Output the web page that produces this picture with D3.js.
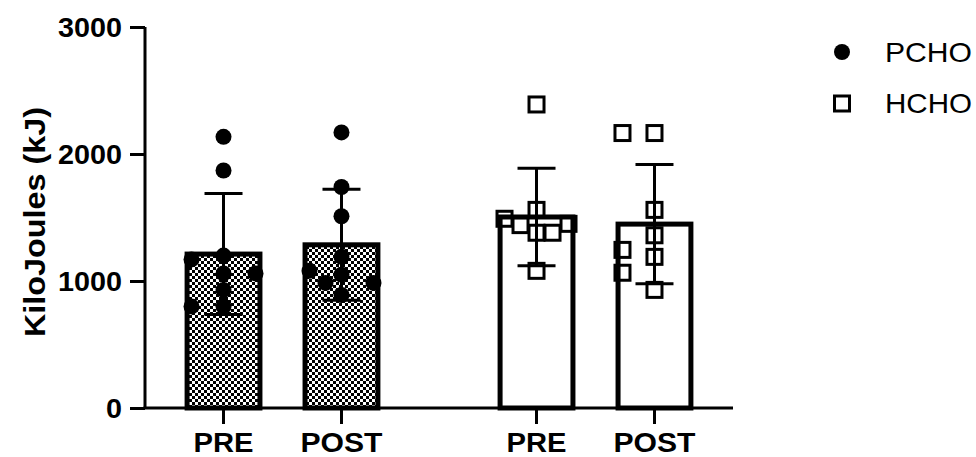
<!DOCTYPE html>
<html><head><meta charset="utf-8">
<script src="https://cdn.jsdelivr.net/npm/d3@7"></script>
<style>body{margin:0;background:#fff}svg{display:block}</style>
</head><body>
<svg id="chart" width="976" height="457"></svg>
<script>
const groups = ["PCHO", "HCHO"];
const times = ["PRE", "POST"];
const yTicks = [0, 1000, 2000, 3000];
const yTitle = "KiloJoules (kJ)";
// means and SDs per bar (group x time)
const meanPCHO = [1212, 1285];
const sdPCHO = [476, 437];
const meanHCHO = [1504, 1448];
const sdHCHO = [384, 470];
// individual values
const ptsPCHOpre = [2135, 1870, 1200, 1170, 1060, 1060, 930, 800, 800];
const ptsPCHOpost = [2170, 1740, 1510, 1190, 1080, 1050, 985, 985, 890];
const ptsHCHOpre = [2390, 1560, 1490, 1450, 1440, 1380, 1380, 1080];
const ptsHCHOpost = [2165, 2165, 1560, 1360, 1245, 1190, 1065, 930];

const svg = d3.select("#chart");
const font = "'Liberation Sans', Arial, sans-serif";
const defs = svg.append("defs");
const pat = defs.append("pattern").attr("id", "checker").attr("patternUnits", "userSpaceOnUse")
  .attr("width", 6).attr("height", 6);
pat.append("rect").attr("width", 6).attr("height", 6).attr("fill", "#fff");
pat.append("rect").attr("width", 3).attr("height", 3).attr("fill", "#000");
pat.append("rect").attr("x", 3).attr("y", 3).attr("width", 3).attr("height", 3).attr("fill", "#000");

const x0 = d3.scaleBand().domain(groups).range([145, 733]).paddingInner(0.25).paddingOuter(0.0643).align(0.5);
const x1 = d3.scaleBand().domain(times).range([0, x0.bandwidth()]).paddingInner(0.34).paddingOuter(0.165);
const y = d3.scaleLinear().domain([0, 3000]).range([408, 27]);

const data = [
  {g: "PCHO", t: "PRE", mean: meanPCHO[0], sd: sdPCHO[0], pts: ptsPCHOpre},
  {g: "PCHO", t: "POST", mean: meanPCHO[1], sd: sdPCHO[1], pts: ptsPCHOpost},
  {g: "HCHO", t: "PRE", mean: meanHCHO[0], sd: sdHCHO[0], pts: ptsHCHOpre},
  {g: "HCHO", t: "POST", mean: meanHCHO[1], sd: sdHCHO[1], pts: ptsHCHOpost}
];
const cx = d => x0(d.g) + x1(d.t) + x1.bandwidth() / 2;
const bw = x1.bandwidth();
const sw = 5;

// bars
svg.append("g").selectAll("rect").data(data).join("rect")
  .attr("x", d => cx(d) - bw / 2 + sw / 2)
  .attr("width", bw - sw)
  .attr("y", d => y(d.mean))
  .attr("height", d => y(0) - y(d.mean))
  .attr("fill", d => d.g === "PCHO" ? "url(#checker)" : "#fff")
  .attr("stroke", "#000").attr("stroke-width", sw);

// error bars
const capW = 38;
const eb = svg.append("g").attr("stroke", "#000").attr("stroke-width", 3);
data.forEach(d => {
  const c = cx(d);
  eb.append("line").attr("x1", c).attr("x2", c).attr("y1", y(d.mean + d.sd)).attr("y2", y(d.mean - d.sd));
  eb.append("line").attr("x1", c - capW / 2).attr("x2", c + capW / 2).attr("y1", y(d.mean + d.sd)).attr("y2", y(d.mean + d.sd));
  eb.append("line").attr("x1", c - capW / 2).attr("x2", c + capW / 2).attr("y1", y(d.mean - d.sd)).attr("y2", y(d.mean - d.sd));
});

// simple swarm layout
function swarm(vals, step, diam) {
  const placed = [];
  const order = vals.map((v, i) => i).sort((a, b) => vals[b] - vals[a]);
  const offs = new Array(vals.length);
  order.forEach(i => {
    const py = y(vals[i]);
    const cands = [0, -2, 2, -1, 1];
    for (const k of cands) {
      const px = k * step;
      if (!placed.some(p => Math.hypot(p.x - px, p.y - py) < diam)) {
        placed.push({x: px, y: py}); offs[i] = px; return;
      }
    }
    placed.push({x: 0, y: py}); offs[i] = 0;
  });
  return offs;
}

const r = 8;
data.forEach(d => {
  const c = cx(d);
  const offs = swarm(d.pts, 16, 16);
  const g = svg.append("g");
  d.pts.forEach((v, i) => {
    if (d.g === "PCHO") {
      g.append("circle").attr("cx", c + offs[i]).attr("cy", y(v)).attr("r", r).attr("fill", "#000");
    } else {
      g.append("rect").attr("x", c + offs[i] - 7.5).attr("y", y(v) - 7.5).attr("width", 15).attr("height", 15)
        .attr("fill", "none").attr("stroke", "#000").attr("stroke-width", 3);
    }
  });
});

// axes
const ya = svg.append("g").attr("transform", "translate(145,0)")
  .call(d3.axisLeft(y).tickValues(yTicks).tickSize(15).tickPadding(8).tickFormat(d3.format("d")));
ya.select(".domain").attr("stroke-width", 3).attr("d", `M0,${y(3000)}V${y(0)}`);
ya.selectAll(".tick line").attr("stroke-width", 3);
ya.selectAll(".tick text").attr("font-family", font).attr("font-weight", "bold").attr("font-size", 28)
  .attr("fill", "#000").attr("dy", "0.35em")
  .attr("textLength", d => String(d).length * 16).attr("lengthAdjust", "spacingAndGlyphs");

const xa = svg.append("g").attr("stroke", "#000");
xa.append("line").attr("x1", 143.5).attr("x2", 733).attr("y1", 408).attr("y2", 408).attr("stroke-width", 3);
data.forEach(d => {
  const c = cx(d);
  xa.append("line").attr("x1", c).attr("x2", c).attr("y1", 408).attr("y2", 424).attr("stroke-width", 3);
  svg.append("text").attr("x", c).attr("y", 452).attr("text-anchor", "middle")
    .attr("font-family", font).attr("font-weight", "bold").attr("font-size", 27)
    .attr("textLength", d.t === "PRE" ? 60 : 82).attr("lengthAdjust", "spacingAndGlyphs").text(d.t);
});

svg.append("text").attr("transform", `translate(45,222) rotate(-90)`).attr("text-anchor", "middle")
  .attr("font-family", font).attr("font-weight", "bold").attr("font-size", 29)
  .attr("textLength", 230).attr("lengthAdjust", "spacingAndGlyphs").text(yTitle);

// legend
const lg = svg.append("g");
lg.append("circle").attr("cx", 842).attr("cy", 52).attr("r", r).attr("fill", "#000");
lg.append("rect").attr("x", 834.5).attr("y", 96).attr("width", 15).attr("height", 15)
  .attr("fill", "none").attr("stroke", "#000").attr("stroke-width", 3);
groups.forEach((g, i) => {
  lg.append("text").attr("x", 885).attr("y", 52 + i * 51).attr("dy", "0.36em")
    .attr("font-family", font).attr("font-size", 28)
    .attr("textLength", 87).attr("lengthAdjust", "spacingAndGlyphs").text(g);
});
</script>
</body></html>
